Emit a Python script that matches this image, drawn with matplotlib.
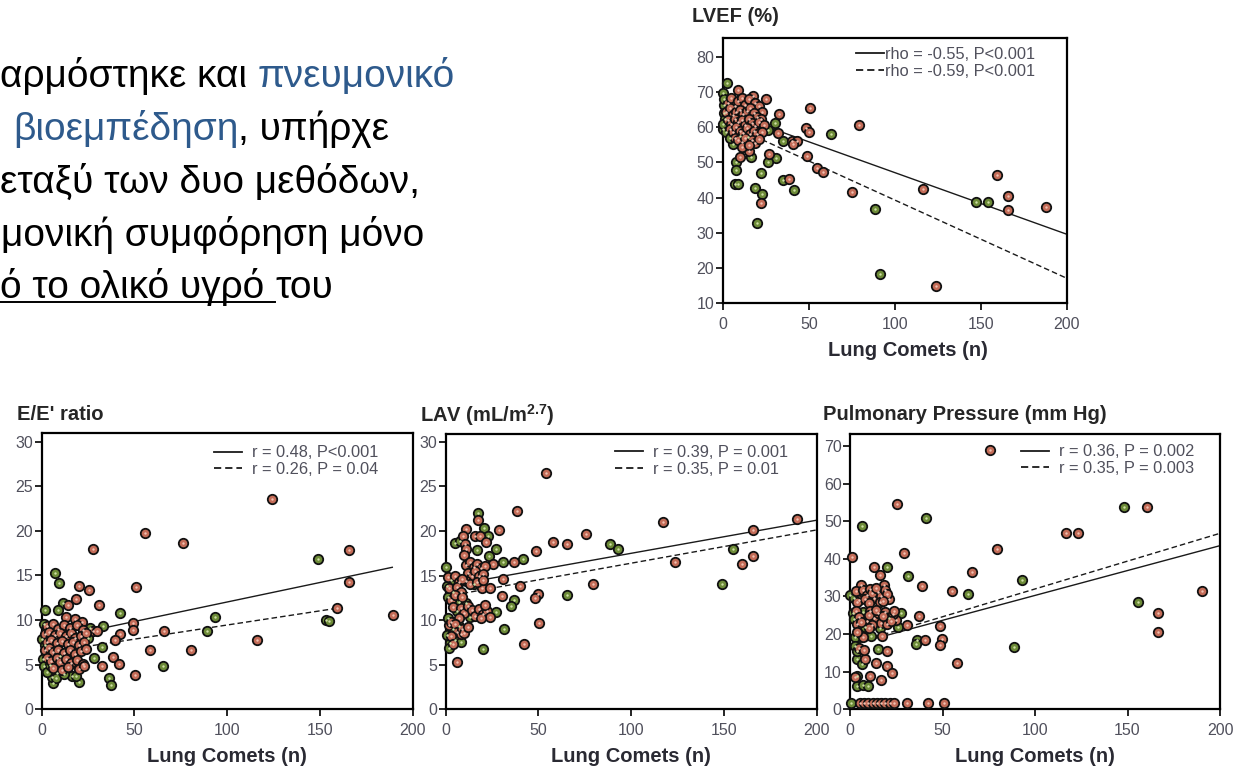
import matplotlib
matplotlib.use("Agg")
import matplotlib.pyplot as plt
from matplotlib.lines import Line2D

plt.rcParams['font.family'] = ['Liberation Sans', 'DejaVu Sans']
plt.rcParams['mathtext.fontset'] = 'custom'
plt.rcParams['mathtext.rm'] = 'Liberation Sans:bold'
plt.rcParams['mathtext.bf'] = 'Liberation Sans:bold'

# ---------------------------------------------------------------- data
x_ticks = [0, 50, 100, 150, 200]

# LVEF (%) vs lung comets
lvef_green_x = [2.3, 0.0, 30.4, 63.2, 26.5, 35.2, 30.9, 26.5, 22.2, 7.7, 7.5, 16.6, 7.0, 9.1,
                34.8, 41.2, 18.7, 22.9, 20.1, 88.4, 91.3, 147.4, 154.2, 6.0, 0.0, 1.0, 0.5,
                1.5, 0.0, 2.0, 4.0, 14.7, 10.0, 1.0]
lvef_green_y = [72.8, 69.7, 61.2, 58.0, 59.3, 56.0, 51.2, 50.2, 47.1, 50.1, 47.9, 51.5, 43.9, 43.8,
                44.9, 42.1, 42.7, 40.9, 32.6, 36.7, 18.2, 38.8, 38.8, 55.3, 59.5, 66.5, 64.0,
                62.5, 61.0, 58.8, 57.0, 57.4, 57.5, 68.0]
lvef_red_x = [9.1, 17.8, 25.1, 50.7, 32.9, 79.3, 48.4, 50.3, 32.3, 40.0, 43.3, 41.0, 49.1, 27.1,
              54.5, 58.4, 9.9, 15.1, 38.7, 22.5, 75.2, 123.8, 116.4, 159.4, 165.8, 165.8, 188.0, 11.2,
              3, 5, 7, 9, 11, 13, 15, 19, 21, 23,
              2, 4, 6, 8, 10, 12, 14, 16, 18, 20, 22,
              3, 5, 7, 9, 11, 13, 15, 17, 19, 21, 24,
              4, 6, 8, 10, 12, 14, 16, 18, 20, 23,
              7, 9, 13, 17, 19, 21, 11, 15]
lvef_red_y = [70.7, 69.0, 68.0, 65.5, 63.8, 60.6, 59.9, 58.6, 58.5, 56.2, 56.0, 55.3, 51.8, 52.3,
              48.3, 47.2, 51.7, 53.4, 45.4, 38.3, 41.5, 14.8, 42.5, 46.4, 40.5, 36.3, 37.2, 55.9,
              67, 68.5, 66, 67.5, 68.3, 66.5, 68, 67, 66, 64.5,
              64.5, 65.5, 63.5, 64.5, 65, 63.8, 64.8, 65.5, 64, 63, 62.5,
              62, 61, 62.5, 61.5, 62, 60.8, 62.5, 61.3, 60.5, 61.5, 60.8,
              59.5, 58.8, 60, 59, 58.5, 59.8, 58.2, 59, 58, 58.8,
              57, 56.5, 57, 56.5, 55.5, 56.8, 54.5, 55]
lvef_intercepts = [64.7, 61.6]
lvef_slopes = [-0.176, -0.2233]
lvef_x_end = [200, 200]
lvef_labels = ['rho = -0.55, P<0.001', 'rho = -0.59, P<0.001']

# E/E' ratio vs lung comets
ee_green_x = [149.1, 7.0, 9.5, 11.5, 2.0, 9.0, 153.3, 155.0, 93.4, 42.2, 32.9, 89.0, 32.3, 28.0,
              65.6, 36.5, 37.2, 20.3, 5.9, 16.2, 18.7, 5.4, 8.5, 25.0, 25.9, 0.0, 0.5, 1.5, 3.0,
              4.5, 7.5, 12.0, 2.0, 1.0, 10.0]
ee_green_y = [16.8, 15.3, 14.2, 11.9, 11.1, 11.1, 10.0, 9.9, 10.3, 10.8, 9.3, 8.8, 7.0, 5.8,
              4.9, 3.5, 2.7, 3.1, 2.9, 3.7, 3.7, 3.6, 4.1, 8.0, 9.1, 7.9, 5.6, 4.8, 4.2,
              5.0, 3.5, 4.0, 7.2, 9.6, 6.0]
ee_red_x = [124.0, 55.7, 76.0, 27.5, 165.9, 165.9, 20.3, 25.7, 50.9, 18.5, 14.4, 31.1, 159.4, 189.6,
            49.4, 49.1, 42.0, 39.6, 66.0, 116.3, 58.4, 80.3, 38.4, 41.6, 32.3, 50.3, 27.5, 29.6,
            13.2, 17.9, 21.5,
            3, 6, 9, 12, 15, 19, 22,
            2, 4, 7, 10, 13, 16, 18, 21, 24,
            3, 5, 8, 11, 14, 17, 20, 23,
            2, 4, 6, 9, 12, 15, 18, 21, 24,
            3, 5, 8, 10, 13, 16, 19, 22,
            6, 11, 14, 20, 23]
ee_red_y = [23.6, 19.8, 18.6, 18.0, 17.9, 14.3, 13.8, 13.4, 13.7, 12.4, 11.7, 11.7, 11.3, 10.6,
            9.7, 8.9, 8.4, 7.8, 8.8, 7.8, 6.7, 6.7, 5.9, 5.1, 4.9, 3.9, 8.8, 8.8,
            10.3, 10.1, 9.8,
            9.3, 9.6, 9.0, 9.4, 9.1, 9.5, 8.9,
            8.4, 8.7, 8.3, 8.6, 8.2, 8.5, 8.0, 8.2, 8.6,
            7.5, 7.8, 7.4, 7.7, 7.3, 7.6, 7.2, 7.5,
            6.6, 6.9, 6.4, 6.7, 6.3, 6.6, 6.2, 6.5, 6.8,
            5.7, 5.4, 5.8, 5.3, 5.6, 5.2, 5.5, 5.1,
            4.6, 4.4, 4.7, 4.5, 4.8]
ee_intercepts = [7.66, 6.28]
ee_slopes = [0.0437, 0.0317]
ee_x_end = [189, 159]
ee_labels = ['r = 0.48, P<0.001', 'r = 0.26, P = 0.04']

# LAV (mL/m^2.7) vs lung comets
lav_green_x = [17.6, 20.5, 22.7, 5.0, 7.7, 16.9, 88.6, 93.1, 27.3, 23.5, 155.0, 41.7, 30.7, 0.2,
               148.8, 15.4, 65.2, 36.6, 35.4, 27.1, 31.2, 20.1, 2.1, 0.5, 3, 4, 1, 0.5, 7, 6,
               11, 13, 1, 4, 7, 5, 2, 8]
lav_green_y = [22.0, 20.3, 19.4, 18.6, 18.9, 17.9, 18.5, 18.0, 18.0, 17.2, 18.0, 16.8, 16.5, 15.9,
               14.0, 14.0, 12.8, 12.3, 11.6, 10.9, 9.0, 6.8, 7.4, 8.3, 14.5, 13.2, 12.6, 13.8, 12.0, 11.0,
               11.9, 10.3, 10.2, 9.0, 9.3, 7.8, 6.9, 7.6]
lav_red_x = [54.2, 38.3, 17.3, 117.3, 189.2, 165.9, 29.0, 10.7, 75.6, 9.5, 15.8, 18.5, 10.5, 11.0,
             21.7, 57.7, 65.6, 48.7, 9.6, 36.8, 25.7, 123.6, 159.6, 165.9, 31.0, 79.2, 40.0, 19.3,
             24.0, 49.6, 48.3, 30.2, 50.2, 42.2, 6.1,
             11, 13, 15, 17, 19, 21, 12, 14, 16, 18, 20, 11, 13, 17, 20,
             1, 5, 7, 9, 2, 6, 8, 3, 5, 9,
             4, 8, 10, 12, 14, 16, 18, 20, 22, 24, 19, 21, 7,
             2, 3, 5, 6, 8, 9, 3, 4, 10, 12]
lav_red_y = [26.5, 22.2, 21.2, 21.0, 21.3, 20.1, 20.1, 20.2, 19.6, 19.4, 19.4, 19.4, 18.5, 18.0,
             18.7, 18.7, 18.5, 17.8, 17.3, 16.5, 16.3, 16.5, 16.3, 17.2, 14.6, 14.0, 13.8, 13.6,
             13.6, 12.9, 12.5, 12.7, 9.7, 7.3, 5.3,
             16.2, 16.5, 16.0, 16.3, 15.8, 16.1, 15.3, 15.0, 15.5, 14.9, 15.2, 14.4, 14.1, 14.3, 14.5,
             14.8, 14.9, 14.3, 14.6, 13.6, 13.7, 13.1, 12.3, 12.8, 12.6,
             11.5, 11.4, 10.8, 11.6, 11.1, 10.5, 11.3, 10.7, 11.0, 10.4, 10.2, 11.7, 10.2,
             9.5, 9.8, 9.6, 8.7, 8.4, 9.0, 8.2, 7.3, 8.5, 9.2]
lav_intercepts = [13.78, 12.65]
lav_slopes = [0.0371, 0.0373]
lav_x_end = [200, 200]
lav_labels = ['r = 0.39, P = 0.001', 'r = 0.35, P = 0.01']

# Pulmonary pressure (mm Hg) vs lung comets
pp_green_x = [148.1, 41.1, 6.3, 20.2, 31.3, 92.8, 64.0, 0.0, 155.9, 27.6, 1.5, 26.0, 36.0, 35.5,
              11.5, 2.8, 88.6, 15.0, 3.8, 4.0, 7.2, 9.9, 3.6, 6.3, 2.5, 3.6, 2, 7, 21, 8, 16, 2, 0.4]
pp_green_y = [53.7, 50.9, 48.6, 37.7, 35.5, 34.4, 30.6, 30.5, 28.6, 25.6, 25.5, 22.0, 18.4, 17.4,
              19.4, 19.3, 16.5, 15.9, 8.9, 6.3, 6.4, 6.3, 13.3, 12.0, 16.8, 15.5, 29.5, 25.8, 24.4,
              21.9, 21.7, 24.0, 1.7]
pp_red_x = [75.7, 25.6, 160.7, 116.8, 123.4, 79.6, 29.3, 1.1, 12.9, 66.0, 16.3, 5.9, 38.9, 18.5,
            55.1, 190.1, 166.7, 166.7, 37.4, 25.0, 30.6, 48.4, 40.5, 49.8, 48.8, 7.2, 17.1, 20.0,
            57.7, 14.2, 20.2, 22.6, 17.0, 2.5, 8.1, 11.0, 5.0, 7.7,
            3, 5, 7, 9, 11, 13, 15, 17, 19, 21, 4, 8, 12, 16, 20, 10, 14, 18,
            3, 5, 9, 11, 13, 15, 17, 19, 23, 4, 12, 20, 6, 10, 14, 18, 22, 24, 10, 4,
            5.4, 7.6, 9.9, 12.2, 14.6, 16.8, 19.1, 21.4, 23.8, 30.6, 42.0, 51.0]
pp_red_y = [68.9, 54.7, 53.7, 46.8, 46.8, 42.6, 41.6, 40.6, 37.9, 36.5, 35.7, 33.1, 32.8, 33.0,
            31.5, 31.5, 25.7, 20.5, 24.7, 23.7, 22.4, 22.1, 18.4, 18.7, 17.2, 19.3, 19.6, 15.6,
            12.4, 12.4, 11.5, 9.6, 7.8, 8.7, 13.3, 8.8, 16.4, 15.7,
            31.5, 29.0, 31.8, 30.5, 32.0, 29.5, 31.2, 30.0, 31.8, 29.2, 28.5, 29.2, 30.8, 28.4,
            30.6, 28.2, 32.3, 28.9,
            26.2, 24.5, 23.5, 26.0, 24.2, 25.5, 23.0, 25.9, 25.2, 22.8, 22.5, 22.8, 23.3, 25.0,
            26.5, 24.8, 23.4, 26.0, 21.6, 20.6,
            1.7, 1.7, 1.7, 1.7, 1.7, 1.7, 1.7, 1.7, 1.7, 1.7, 1.7, 1.7]
pp_intercepts = [17.04, 17.2]
pp_slopes = [0.1323, 0.1479]
pp_x_end = [200, 200]
pp_labels = ['r = 0.36, P = 0.002', 'r = 0.35, P = 0.003']

# ---------------------------------------------------------------- styling
W, H = 1233, 768
RED, RED_HI = '#c46c58', '#f0c2b2'
GREEN, GREEN_HI = '#6d8b38', '#cfe0a6'
TICK_C = '#50505c'
TITLE_C = '#262626'
BLUE = '#2e5a8c'

fig = plt.figure(figsize=(W / 100, H / 100), dpi=100)
fig.patch.set_facecolor('white')


def add_axes_px(left, top, right, bottom):
    return fig.add_axes([left / W, 1 - bottom / H, (right - left) / W, (bottom - top) / H])


def panel(box, ylim, yticks, title, title_pos, xlabel_pos,
          rx, ry, gx, gy, intercepts, slopes, x_end, labels, leg_anchor, textpad):
    ax = add_axes_px(*box)
    ax.set_xlim(0, 200)
    ax.set_ylim(*ylim)
    ax.set_xticks(x_ticks)
    ax.set_yticks(yticks)
    for sp in ax.spines.values():
        sp.set_linewidth(1.6)
        sp.set_color('black')
    ax.tick_params(direction='out', length=5, width=1.2, colors='black',
                   labelsize=11.5, labelcolor=TICK_C)
    ax.tick_params(axis='y', pad=1)
    ax.tick_params(axis='x', pad=5)

    styles = ['-', (0, (4, 2.2))]
    handles = []
    for b0, b1, xe, ls, lab in zip(intercepts, slopes, x_end, styles, labels):
        ax.plot([0, xe], [b0, b0 + b1 * xe], color='#1a1a1a', lw=1.0, ls=ls, zorder=2)
        handles.append(Line2D([], [], color='#1a1a1a', lw=1.3, ls=ls, label=lab))

    for xs, ys, fc, hc in ((gx, gy, GREEN, GREEN_HI), (rx, ry, RED, RED_HI)):
        ax.scatter(xs, ys, s=46, c=fc, edgecolors='#111111', linewidths=1.3,
                   zorder=3, clip_on=False)
        ax.scatter(xs, ys, s=3, c=hc, linewidths=0, zorder=4, clip_on=False)

    ax.legend(handles=handles, loc='upper right', bbox_to_anchor=leg_anchor,
              frameon=False, fontsize=11.8, handlelength=1.7, handletextpad=textpad,
              labelspacing=0.1, borderpad=0, borderaxespad=0, labelcolor=TICK_C)

    fig.text(title_pos[0] / W, 1 - title_pos[1] / H, title, fontsize=14.5, fontweight='bold',
             color=TITLE_C, ha='left', va='center')
    fig.text(xlabel_pos[0] / W, 1 - xlabel_pos[1] / H, 'Lung Comets (n)', fontsize=14.5,
             fontweight='bold', color='#2a2a33', ha='center', va='center')
    return ax


panel((722.7, 38, 1067, 302.7), (10, 85.5), range(10, 81, 10), 'LVEF (%)', (692, 16), (908, 350),
      lvef_red_x, lvef_red_y, lvef_green_x, lvef_green_y,
      lvef_intercepts, lvef_slopes, lvef_x_end, lvef_labels, (0.907, 0.966), 0.05)
panel((41.7, 433.3, 412.7, 709.3), (0, 30.94), range(0, 31, 5), "E/E' ratio", (17, 415), (227, 756),
      ee_red_x, ee_red_y, ee_green_x, ee_green_y,
      ee_intercepts, ee_slopes, ee_x_end, ee_labels, (0.906, 0.956), 0.6)
panel((445.7, 434.3, 816.7, 709.3), (0, 30.83), range(0, 31, 5),
      r'LAV (mL/m$\mathregular{^{2.7}}$)', (420, 415), (631, 756),
      lav_red_x, lav_red_y, lav_green_x, lav_green_y,
      lav_intercepts, lav_slopes, lav_x_end, lav_labels, (0.923, 0.961), 0.6)
panel((850, 434.3, 1220, 709.3), (0, 73.1), range(0, 71, 10), 'Pulmonary Pressure (mm Hg)',
      (823, 415), (1035, 756),
      pp_red_x, pp_red_y, pp_green_x, pp_green_y,
      pp_intercepts, pp_slopes, pp_x_end, pp_labels, (0.93, 0.963), 0.6)

# ---------------------------------------------------------------- slide text
renderer = fig.canvas.get_renderer()
TEXT_SIZE = 28


def advance(s):
    t1 = fig.text(0, 0, s + '|', fontsize=TEXT_SIZE)
    t2 = fig.text(0, 0, '|', fontsize=TEXT_SIZE)
    w = t1.get_window_extent(renderer).width - t2.get_window_extent(renderer).width
    t1.remove()
    t2.remove()
    return w


text_lines = [
    [('αρμόστηκε και ', 'black', False), ('πνευμονικό', BLUE, False)],
    [('βιοεμπέδηση', BLUE, False), (', υπήρχε', 'black', False)],
    [('εταξύ των δυο μεθόδων,', 'black', False)],
    [('μονική συμφόρηση μόνο', 'black', False)],
    [('ό το ολικό υγρό ', 'black', True), ('του', 'black', False)],
]
line_x = [0, 13, 0, 1, 0]
line_base = [87, 140, 193, 246, 298]

for runs, x0, yb in zip(text_lines, line_x, line_base):
    x = x0
    for s, col, under in runs:
        fig.text(x / W, 1 - yb / H, s, fontsize=TEXT_SIZE, color=col, ha='left', va='baseline')
        w = advance(s)
        if under:
            fig.add_artist(Line2D([x / W, (x + w) / W], [1 - (yb + 4) / H] * 2,
                                  color=col, lw=1.4, transform=fig.transFigure))
        x += w

fig.savefig('out.png', dpi=100, facecolor='white')
